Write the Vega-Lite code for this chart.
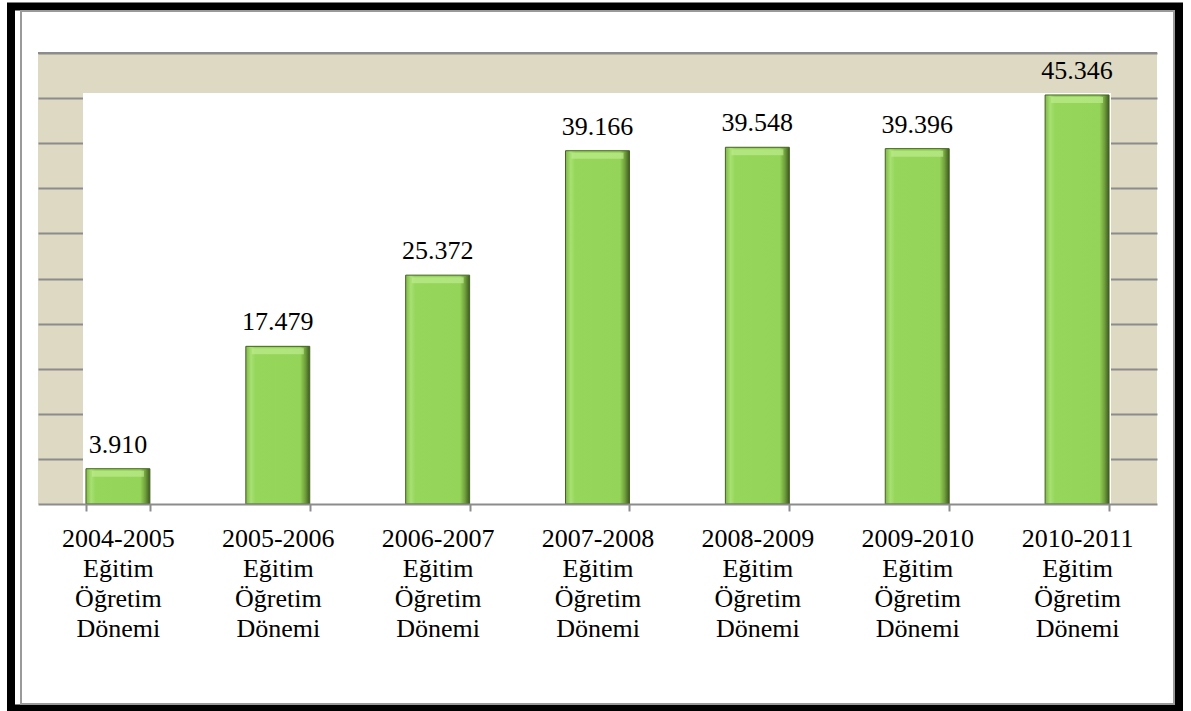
{
  "$schema": "https://vega.github.io/schema/vega-lite/v6.json",
  "width": 1119,
  "height": 451,
  "autosize": {"type": "none"},
  "padding": {"left": 38, "top": 53, "right": 34, "bottom": 207},
  "background": "white",
  "config": {
    "view": {"fill": "#DDD9C3", "stroke": null},
    "locale": {"number": {"decimal": ",", "thousands": ".", "grouping": [3], "currency": ["", ""]}},
    "font": "Liberation Serif, Times New Roman, serif"
  },
  "data": {
    "values": [
      {"period": "2004-2005 Eğitim Öğretim Dönemi", "value": 3910},
      {"period": "2005-2006 Eğitim Öğretim Dönemi", "value": 17479},
      {"period": "2006-2007 Eğitim Öğretim Dönemi", "value": 25372},
      {"period": "2007-2008 Eğitim Öğretim Dönemi", "value": 39166},
      {"period": "2008-2009 Eğitim Öğretim Dönemi", "value": 39548},
      {"period": "2009-2010 Eğitim Öğretim Dönemi", "value": 39396},
      {"period": "2010-2011 Eğitim Öğretim Dönemi", "value": 45346}
    ]
  },
  "resolve": {"scale": {"x": "independent"}},
  "layer": [
    {
      "data": {"values": [{"frame": "chart"}]},
      "layer": [
        {
          "mark": {"type": "rect", "fill": "white", "strokeWidth": 0},
          "encoding": {
            "x": {"datum": 0.0402, "type": "quantitative", "scale": {"domain": [0, 1], "nice": false, "zero": false}, "axis": null},
            "x2": {"datum": 0.9589},
            "y": {"datum": 45565, "type": "quantitative", "scale": {"domain": [0, 50000], "nice": false},
              "axis": {"title": null, "grid": true, "gridColor": "#8c8c8c", "gridWidth": 2, "labels": false, "ticks": false, "domain": false,
                "values": [5000, 10000, 15000, 20000, 25000, 30000, 35000, 40000, 45000, 50000]}},
            "y2": {"datum": 0}
          }
        },
        {
          "mark": {"type": "rule", "stroke": "#8c8c8c", "strokeWidth": 2},
          "encoding": {
            "x": {"datum": 0, "type": "quantitative", "scale": {"domain": [0, 1], "nice": false, "zero": false}, "axis": null},
            "x2": {"datum": 1},
            "y": {"datum": 50000, "type": "quantitative", "scale": {"domain": [0, 50000], "nice": false},
              "axis": {"title": null, "grid": true, "gridColor": "#8c8c8c", "gridWidth": 2, "labels": false, "ticks": false, "domain": false,
                "values": [5000, 10000, 15000, 20000, 25000, 30000, 35000, 40000, 45000, 50000]}}
          }
        },
        {
          "mark": {"type": "rect", "filled": false, "stroke": "black", "strokeWidth": 8},
          "encoding": {
            "x": {"datum": -0.02413, "type": "quantitative", "scale": {"domain": [0, 1], "nice": false, "zero": false}, "axis": null},
            "x2": {"datum": 1.01966},
            "y": {"datum": 55155, "type": "quantitative", "scale": {"domain": [0, 50000], "nice": false},
              "axis": {"title": null, "grid": true, "gridColor": "#8c8c8c", "gridWidth": 2, "labels": false, "ticks": false, "domain": false,
                "values": [5000, 10000, 15000, 20000, 25000, 30000, 35000, 40000, 45000, 50000]}},
            "y2": {"datum": -22672}
          }
        },
        {
          "mark": {"type": "rect", "filled": false, "stroke": "#9a9a9a", "strokeWidth": 2},
          "encoding": {
            "x": {"datum": -0.01519, "type": "quantitative", "scale": {"domain": [0, 1], "nice": false, "zero": false}, "axis": null},
            "x2": {"datum": 1.01519},
            "y": {"datum": 54656, "type": "quantitative", "scale": {"domain": [0, 50000], "nice": false},
              "axis": {"title": null, "grid": true, "gridColor": "#8c8c8c", "gridWidth": 2, "labels": false, "ticks": false, "domain": false,
                "values": [5000, 10000, 15000, 20000, 25000, 30000, 35000, 40000, 45000, 50000]}},
            "y2": {"datum": -22173}
          }
        }
      ]
    },
    {
      "encoding": {
        "x": {
          "field": "period",
          "type": "nominal",
          "sort": null,
          "scale": {"paddingInner": 0.6, "paddingOuter": 0.3},
          "axis": {
            "title": null,
            "labelAngle": 0,
            "labelFont": "Liberation Serif, Times New Roman, serif",
            "labelFontSize": 26,
            "labelColor": "black",
            "labelLineHeight": 30,
            "labelExpr": "split(datum.label, ' ')",
            "labelPadding": 14,
            "labelLimit": 0,
            "labelOverlap": false,
            "tickBand": "extent",
            "tickSize": 7,
            "tickColor": "#8c8c8c",
            "tickWidth": 2,
            "domainColor": "#8c8c8c",
            "domainWidth": 2,
            "zindex": 1
          }
        },
        "y": {
          "field": "value",
          "type": "quantitative",
          "scale": {"domain": [0, 50000], "nice": false},
          "axis": {"title": null, "grid": true, "gridColor": "#8c8c8c", "gridWidth": 2, "labels": false, "ticks": false, "domain": false,
            "values": [5000, 10000, 15000, 20000, 25000, 30000, 35000, 40000, 45000, 50000]}
        }
      },
      "layer": [
        {
          "mark": {
            "type": "bar",
            "fill": {
              "gradient": "linear",
              "x1": 0, "y1": 0, "x2": 1, "y2": 0,
              "stops": [
                {"offset": 0, "color": "#7fb847"},
                {"offset": 0.08, "color": "#a8e173"},
                {"offset": 0.15, "color": "#96d65a"},
                {"offset": 0.85, "color": "#94d458"},
                {"offset": 0.93, "color": "#6f9e3c"},
                {"offset": 1, "color": "#3f5a22"}
              ]
            },
            "stroke": "#44601f",
            "strokeWidth": 1
          }
        },
        {
          "mark": {"type": "tick", "color": "#bdeb8f", "thickness": 6, "size": 52, "yOffset": 5}
        },
        {
          "mark": {"type": "text", "font": "Liberation Serif, Times New Roman, serif", "fontSize": 26, "baseline": "alphabetic", "dy": -16, "color": "black"},
          "encoding": {"text": {"field": "value", "type": "quantitative", "format": ","}}
        }
      ]
    }
  ]
}
